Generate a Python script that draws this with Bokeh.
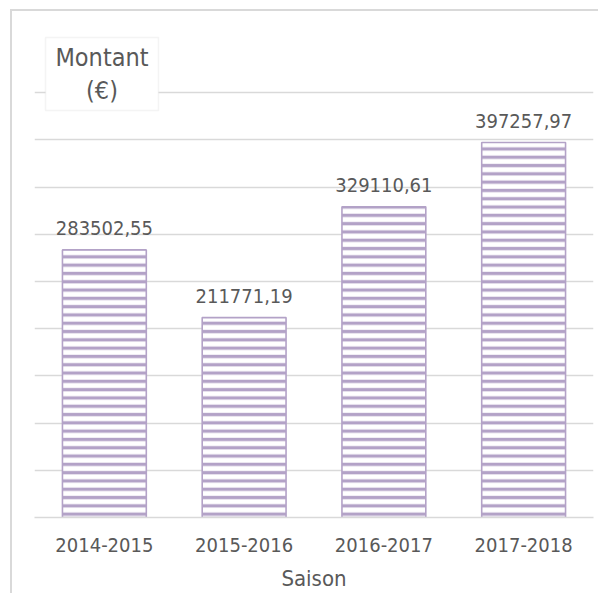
from bokeh.plotting import figure
from bokeh.models import (ColumnDataSource, BoxAnnotation, Label,
                          FixedTicker, Range1d, FactorRange)
from bokeh.core.properties import value
from bokeh.embed import file_html
from bokeh.resources import INLINE

# ---- data ----
seasons = ["2014-2015", "2015-2016", "2016-2017", "2017-2018"]
amounts = [283502.55, 211771.19, 329110.61, 397257.97]
labels = [f"{v:.2f}".replace(".", ",") for v in amounts]
grid_ticks = [0, 50000, 100000, 150000, 200000, 250000, 300000, 350000, 400000, 450000]
y_title = "Montant\n(€)"
x_title = "Saison"

FONT = "DejaVu Sans Condensed"
PURPLE = "#b3a2c7"
GRID = "#d9d9d9"
TEXT = "#595959"

src = ColumnDataSource(dict(season=seasons, amount=amounts, label=labels))

p = figure(width=588, height=584, output_backend="svg", toolbar_location=None,
           x_range=FactorRange(*seasons), y_range=Range1d(0, 526500),
           y_axis_location=None, min_border_left=22, min_border_right=7,
           min_border_top=9, min_border_bottom=78)
p.styles = {"margin-left": "12px", "margin-top": "11px",
            "vertical-align": "top",
            "box-shadow": "-2px -2px 0px 0px #d9d9d9"}
p.outline_line_color = None
p.background_fill_color = "white"
p.border_fill_color = "white"
p.xgrid.visible = False

yg = p.ygrid[0]
yg.ticker = FixedTicker(ticks=grid_ticks)
yg.grid_line_color = GRID
yg.grid_line_width = 1.3

p.vbar(x="season", top="amount", width=0.6, source=src,
       fill_color="white", line_color=PURPLE, line_width=1.6,
       hatch_pattern="horizontal_line", hatch_color=PURPLE,
       hatch_scale=8.3, hatch_weight=3.3)

p.text(x="season", y="amount", text="label", source=src,
       text_align="center", text_baseline="alphabetic", y_offset=-22,
       text_font=value(FONT), text_font_size="20px", text_color=TEXT)

ax = p.xaxis[0]
ax.major_tick_line_color = None
ax.minor_tick_line_color = None
ax.axis_line_color = GRID
ax.axis_line_width = 1.3
ax.major_label_text_font = FONT
ax.major_label_text_font_size = "20px"
ax.major_label_text_color = TEXT
ax.major_label_standoff = 14
ax.axis_label = x_title
ax.axis_label_text_font = FONT
ax.axis_label_text_font_size = "22px"
ax.axis_label_text_font_style = "normal"
ax.axis_label_text_color = TEXT
ax.axis_label_standoff = 11

# axis title box
box = BoxAnnotation(left=0.079, right=0.887, top=508500, bottom=431200,
                    fill_color="white", fill_alpha=1.0,
                    line_color=GRID, line_width=1.5)
p.add_layout(box)
lab = Label(x=0.483, y=502600, text=y_title, text_align="center",
            text_baseline="top", text_font=FONT, text_font_size="25px",
            text_color=TEXT, text_line_height=1.15)
p.add_layout(lab)

open("out.html", "w").write(file_html(p, INLINE))
